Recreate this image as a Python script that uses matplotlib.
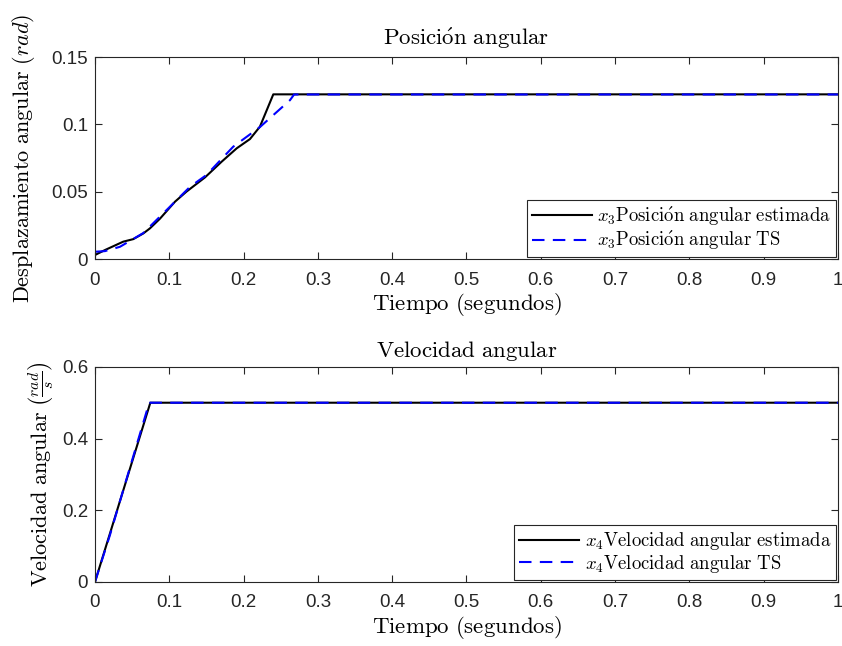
import matplotlib
matplotlib.use("Agg")
import matplotlib.pyplot as plt
from matplotlib.ticker import FuncFormatter

plt.rcParams['mathtext.fontset'] = 'cm'
plt.rcParams['font.family'] = ['Liberation Sans', 'DejaVu Sans']

# posición angular (x3)
t_pos_est = [0, 0.0135, 0.038, 0.0516, 0.065, 0.074, 0.0875, 0.1077, 0.123, 0.148,
             0.1705, 0.1907, 0.2086, 0.222, 0.240, 1.0]
pos_est = [0.003, 0.0067, 0.0129, 0.0148, 0.019, 0.0228, 0.030, 0.0426, 0.050, 0.0606,
           0.0723, 0.0822, 0.0891, 0.0983, 0.1223, 0.1223]
t_pos_ts = [0, 0.0135, 0.0336, 0.065, 0.092, 0.128, 0.150, 0.186, 0.222, 0.2625, 0.268, 1.0]
pos_ts = [0.0054, 0.0059, 0.0091, 0.0193, 0.034, 0.0537, 0.0624, 0.0834, 0.098, 0.118,
          0.1222, 0.1222]

# velocidad angular (x4)
t_vel_est = [0, 0.0745, 1.0]
vel_est = [0, 0.5, 0.5]
t_vel_ts = [0, 0.02, 0.04, 0.073, 1.0]
vel_ts = [0, 0.13, 0.27, 0.5, 0.5]

xticks = [0, 0.1, 0.2, 0.3, 0.4, 0.5, 0.6, 0.7, 0.8, 0.9, 1]

fig = plt.figure(figsize=(8.42, 6.46), dpi=100)
ax1 = fig.add_axes([0.1128, 0.599, 0.8824, 0.3127])
ax2 = fig.add_axes([0.1128, 0.0991, 0.8824, 0.333])

fmt = FuncFormatter(lambda v, p: f"{v:g}")
spine_col = '#262626'
dash = (0, (6, 4))


def style(ax):
    ax.set_xlim(0, 1)
    ax.set_xticks(xticks)
    ax.xaxis.set_major_formatter(fmt)
    ax.yaxis.set_major_formatter(fmt)
    ax.tick_params(direction='in', top=True, right=True, labelsize=13.5,
                   colors=spine_col, length=5, width=0.8, pad=5)
    ax.tick_params(axis='x', pad=9)
    for s in ax.spines.values():
        s.set_color(spine_col)
        s.set_linewidth(0.8)


def legend(ax):
    leg = ax.legend(loc='lower right', fontsize=13.5, fancybox=False, framealpha=1,
                    edgecolor=spine_col, borderaxespad=0.12, handlelength=3.2,
                    labelspacing=0.05, borderpad=0.25, handletextpad=0.3)
    leg.get_frame().set_linewidth(0.8)


ax1.plot(t_pos_est, pos_est, color='black', lw=1.5,
         label=r"$x_3\mathrm{Posici\acute{o}n\ angular\ estimada}$")
ax1.plot(t_pos_ts, pos_ts, color='blue', lw=1.5, ls=dash,
         label=r"$x_3\mathrm{Posici\acute{o}n\ angular\ TS}$")
ax1.set_ylim(0, 0.15)
ax1.set_yticks([0, 0.05, 0.1, 0.15])
style(ax1)
ax1.set_title(r"$\mathrm{Posici\acute{o}n\ angular}$", fontsize=16.5, pad=8.5)
ax1.set_xlabel(r"$\mathrm{Tiempo\ (segundos)}$", fontsize=16.5, labelpad=2)
ax1.set_ylabel(r"$\mathrm{Desplazamiento\ angular}\ (rad)$", fontsize=16, labelpad=10)
legend(ax1)

ax2.plot(t_vel_est, vel_est, color='black', lw=1.5,
         label=r"$x_4\mathrm{Velocidad\ angular\ estimada}$")
ax2.plot(t_vel_ts, vel_ts, color='blue', lw=1.5, ls=dash,
         label=r"$x_4\mathrm{Velocidad\ angular\ TS}$")
ax2.set_ylim(0, 0.6)
ax2.set_yticks([0, 0.2, 0.4, 0.6])
style(ax2)
ax2.set_title(r"$\mathrm{Velocidad\ angular}$", fontsize=16.5, pad=7)
ax2.set_xlabel(r"$\mathrm{Tiempo\ (segundos)}$", fontsize=16.5, labelpad=2)
ax2.set_ylabel(r"$\mathrm{Velocidad\ angular}\ \left(\frac{rad}{s}\right)$", fontsize=16, labelpad=4)
legend(ax2)

fig.savefig("out.png", dpi=100)
